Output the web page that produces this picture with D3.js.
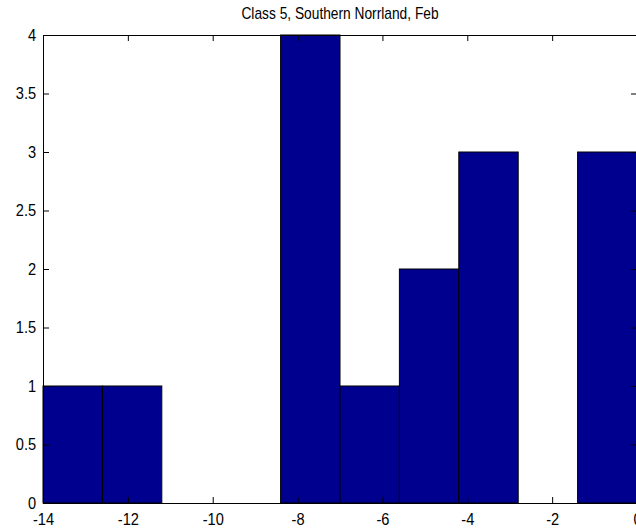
<!DOCTYPE html>
<html>
<head>
<meta charset="utf-8">
<script src="https://cdn.jsdelivr.net/npm/d3@7"></script>
<style>
  html, body { margin: 0; padding: 0; background: #fff; }
  svg { display: block; }
  text { font-family: Arial, "Liberation Sans", Helvetica, sans-serif; fill: #000; }
</style>
</head>
<body>
<svg id="chart" width="636" height="529"></svg>
<script>
// Histogram bin edges and counts
const binEdges = [-14, -12.6, -11.2, -9.8, -8.4, -7, -5.6, -4.2, -2.8, -1.4, 0];
const counts = [1, 1, 0, 0, 4, 1, 2, 3, 0, 3];
const xTicks = [-14, -12, -10, -8, -6, -4, -2, 0];
const yTicks = [0, 0.5, 1, 1.5, 2, 2.5, 3, 3.5, 4];
const titleText = "Class 5, Southern Norrland, Feb";

const bins = counts.map((c, i) => ({ x0: binEdges[i], x1: binEdges[i + 1], count: c }));

const svg = d3.select("#chart");
const margin = { left: 43, top: 35, right: 637, bottom: 503 };

const x = d3.scaleLinear().domain([-14, 0]).range([margin.left, margin.right]);
const y = d3.scaleLinear().domain([0, 4]).range([margin.bottom, margin.top]);

// Labels use a tall, narrow face
const fontSize = 17;
const titleSize = 16;
const squeeze = 0.86;

// Bars
svg.append("g")
  .selectAll("rect")
  .data(bins.filter(d => d.count > 0))
  .join("rect")
  .attr("x", d => x(d.x0))
  .attr("y", d => y(d.count))
  .attr("width", d => x(d.x1) - x(d.x0))
  .attr("height", d => y(0) - y(d.count))
  .attr("fill", "#00008F")
  .attr("stroke", "#000")
  .attr("stroke-width", 1);

// Axes with inward ticks on all four sides
const tick = 6;

svg.append("g")
  .attr("transform", `translate(0,${margin.bottom})`)
  .call(d3.axisBottom(x).tickValues(xTicks).tickSizeInner(-tick).tickSizeOuter(0).tickPadding(10).tickFormat(d => String(d)))
  .call(g => g.selectAll("text").attr("font-size", fontSize).attr("transform", `scale(${squeeze},1)`));

svg.append("g")
  .attr("transform", `translate(0,${margin.top})`)
  .call(d3.axisTop(x).tickValues(xTicks).tickSizeInner(-tick).tickSizeOuter(0).tickFormat(""));

svg.append("g")
  .attr("transform", `translate(${margin.left},0)`)
  .call(d3.axisLeft(y).tickValues(yTicks).tickSizeInner(-tick).tickSizeOuter(0).tickPadding(8).tickFormat(d => String(d)))
  .call(g => g.selectAll("text").attr("font-size", fontSize).attr("transform", `scale(${squeeze},1)`));

svg.append("g")
  .attr("transform", `translate(${margin.right},0)`)
  .call(d3.axisRight(y).tickValues(yTicks).tickSizeInner(-tick).tickSizeOuter(0).tickFormat(""));

svg.selectAll(".domain").attr("stroke", "#000");
svg.selectAll(".tick line").attr("stroke", "#000");

// Title
svg.append("g")
  .attr("transform", `translate(${(margin.left + margin.right) / 2},19) scale(${squeeze},1)`)
  .append("text")
  .attr("text-anchor", "middle")
  .attr("font-size", titleSize)
  .text(titleText);
</script>
</body>
</html>
